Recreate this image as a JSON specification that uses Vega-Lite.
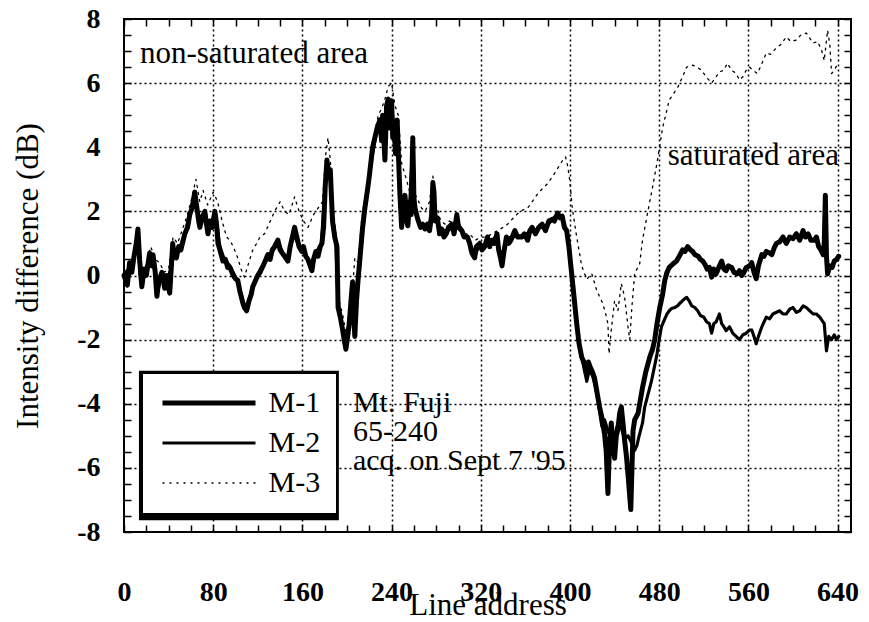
{
 "$schema": "https://vega.github.io/schema/vega-lite/v6.json",
 "width": 727, "height": 513,
 "autosize": {"type": "none"},
 "padding": {"left": 124, "top": 19, "right": 18, "bottom": 90},
 "background": "white",
 "config": {
  "view": {"stroke": "black", "strokeWidth": 2},
  "font": "Liberation Serif",
  "axis": {"domain": false, "tickColor": "black", "tickWidth": 1.5, "tickSize": -7, "labelColor": "black", "labelFont": "Liberation Serif", "labelFontSize": 28, "labelFontWeight": "bold", "titleFont": "Liberation Serif", "titleFontSize": 31, "titleFontWeight": "normal", "titleColor": "black", "gridColor": "black", "gridDash": [2, 3], "gridWidth": 1.5, "labelFlush": false, "labelOverlap": false},
  "legend": {"orient": "none", "legendX": 18, "legendY": 354, "fillColor": "white", "strokeColor": "black", "padding": 15, "symbolType": "stroke", "symbolSize": 8650, "symbolOffset": 2.5, "symbolStrokeColor": "black", "clipHeight": 30, "labelFont": "Liberation Serif", "labelFontSize": 30, "labelColor": "black", "labelOffset": 10, "rowPadding": 10}
 },
 "data": {"values": [
{"s":"M-1","x":0,"y":0},{"s":"M-1","x":3,"y":-0.3},{"s":"M-1","x":5,"y":0.4},{"s":"M-1","x":7,"y":0.1},{"s":"M-1","x":9,"y":0.6},{"s":"M-1","x":11,"y":1.0},{"s":"M-1","x":12.5,"y":1.45},{"s":"M-1","x":14,"y":0.5},{"s":"M-1","x":16,"y":-0.35},{"s":"M-1","x":18,"y":0.2},{"s":"M-1","x":20,"y":0.0},{"s":"M-1","x":23,"y":0.7},{"s":"M-1","x":25,"y":0.3},{"s":"M-1","x":26,"y":0.65},{"s":"M-1","x":28,"y":0.1},{"s":"M-1","x":29.5,"y":-0.65},{"s":"M-1","x":31,"y":-0.2},{"s":"M-1","x":34,"y":0.1},{"s":"M-1","x":36.5,"y":-0.4},{"s":"M-1","x":38,"y":0.0},{"s":"M-1","x":41,"y":-0.55},{"s":"M-1","x":42.5,"y":0.3},{"s":"M-1","x":43.7,"y":1.0},{"s":"M-1","x":45,"y":0.6},{"s":"M-1","x":47,"y":0.55},{"s":"M-1","x":49,"y":0.9},{"s":"M-1","x":51,"y":0.8},{"s":"M-1","x":54.5,"y":1.3},{"s":"M-1","x":57,"y":1.5},{"s":"M-1","x":59,"y":1.9},{"s":"M-1","x":61,"y":2.1},{"s":"M-1","x":63.5,"y":2.6},{"s":"M-1","x":65,"y":2.2},{"s":"M-1","x":67,"y":1.7},{"s":"M-1","x":68,"y":1.5},{"s":"M-1","x":70,"y":1.8},{"s":"M-1","x":72.5,"y":2.0},{"s":"M-1","x":74,"y":1.6},{"s":"M-1","x":75.3,"y":1.3},{"s":"M-1","x":77,"y":1.7},{"s":"M-1","x":79,"y":1.5},{"s":"M-1","x":81.5,"y":2.0},{"s":"M-1","x":83,"y":1.6},{"s":"M-1","x":84.3,"y":1.0},{"s":"M-1","x":86,"y":0.8},{"s":"M-1","x":88.7,"y":0.45},{"s":"M-1","x":91,"y":0.5},{"s":"M-1","x":93,"y":0.25},{"s":"M-1","x":95,"y":0.25},{"s":"M-1","x":98,"y":0.0},{"s":"M-1","x":100,"y":-0.1},{"s":"M-1","x":102,"y":-0.15},{"s":"M-1","x":104,"y":-0.5},{"s":"M-1","x":106.5,"y":-0.85},{"s":"M-1","x":108,"y":-1.0},{"s":"M-1","x":110,"y":-1.1},{"s":"M-1","x":112,"y":-0.8},{"s":"M-1","x":114,"y":-0.6},{"s":"M-1","x":115.5,"y":-0.35},{"s":"M-1","x":118,"y":-0.15},{"s":"M-1","x":120,"y":0.0},{"s":"M-1","x":122,"y":0.1},{"s":"M-1","x":124,"y":0.25},{"s":"M-1","x":126,"y":0.4},{"s":"M-1","x":129,"y":0.65},{"s":"M-1","x":131,"y":0.5},{"s":"M-1","x":133,"y":0.8},{"s":"M-1","x":135,"y":0.9},{"s":"M-1","x":138,"y":1.1},{"s":"M-1","x":140,"y":0.8},{"s":"M-1","x":142,"y":0.7},{"s":"M-1","x":144,"y":0.6},{"s":"M-1","x":147,"y":0.45},{"s":"M-1","x":149,"y":0.9},{"s":"M-1","x":151,"y":1.2},{"s":"M-1","x":153,"y":1.5},{"s":"M-1","x":155,"y":1.2},{"s":"M-1","x":157,"y":0.9},{"s":"M-1","x":159.5,"y":0.75},{"s":"M-1","x":161,"y":0.9},{"s":"M-1","x":163,"y":0.6},{"s":"M-1","x":165,"y":0.5},{"s":"M-1","x":168.5,"y":0.15},{"s":"M-1","x":170,"y":0.5},{"s":"M-1","x":172,"y":0.75},{"s":"M-1","x":174,"y":0.6},{"s":"M-1","x":176,"y":0.9},{"s":"M-1","x":177.5,"y":1.0},{"s":"M-1","x":179,"y":1.5},{"s":"M-1","x":180.5,"y":2.8},{"s":"M-1","x":182,"y":3.6},{"s":"M-1","x":183.5,"y":3.2},{"s":"M-1","x":185,"y":3.3},{"s":"M-1","x":186,"y":2.5},{"s":"M-1","x":187,"y":1.7},{"s":"M-1","x":189,"y":1.2},{"s":"M-1","x":191,"y":0.9},{"s":"M-1","x":192,"y":-1.0},{"s":"M-1","x":194,"y":-1.3},{"s":"M-1","x":195.6,"y":-1.6},{"s":"M-1","x":197,"y":-1.9},{"s":"M-1","x":199,"y":-2.3},{"s":"M-1","x":201,"y":-1.8},{"s":"M-1","x":202,"y":-1.5},{"s":"M-1","x":204,"y":-0.6},{"s":"M-1","x":205,"y":-0.2},{"s":"M-1","x":206,"y":-1.2},{"s":"M-1","x":207,"y":-1.9},{"s":"M-1","x":208.5,"y":-0.8},{"s":"M-1","x":210,"y":-0.1},{"s":"M-1","x":212,"y":0.7},{"s":"M-1","x":214,"y":1.5},{"s":"M-1","x":216,"y":2.1},{"s":"M-1","x":218.5,"y":2.7},{"s":"M-1","x":220,"y":3.1},{"s":"M-1","x":222,"y":3.7},{"s":"M-1","x":223,"y":4.0},{"s":"M-1","x":225,"y":4.3},{"s":"M-1","x":227,"y":4.6},{"s":"M-1","x":229.5,"y":4.85},{"s":"M-1","x":231,"y":4.2},{"s":"M-1","x":232,"y":5.0},{"s":"M-1","x":234,"y":3.6},{"s":"M-1","x":235.5,"y":5.3},{"s":"M-1","x":237,"y":5.5},{"s":"M-1","x":238.5,"y":4.6},{"s":"M-1","x":240,"y":5.45},{"s":"M-1","x":241,"y":4.3},{"s":"M-1","x":242,"y":4.8},{"s":"M-1","x":243.5,"y":3.8},{"s":"M-1","x":245,"y":4.85},{"s":"M-1","x":246.5,"y":3.4},{"s":"M-1","x":247.5,"y":2.5},{"s":"M-1","x":249,"y":1.5},{"s":"M-1","x":250.5,"y":2.2},{"s":"M-1","x":252,"y":2.5},{"s":"M-1","x":253.5,"y":1.7},{"s":"M-1","x":254.6,"y":1.55},{"s":"M-1","x":256,"y":2.3},{"s":"M-1","x":257.5,"y":1.9},{"s":"M-1","x":259,"y":4.3},{"s":"M-1","x":260,"y":2.4},{"s":"M-1","x":261,"y":2.1},{"s":"M-1","x":263.5,"y":1.75},{"s":"M-1","x":266,"y":1.5},{"s":"M-1","x":268,"y":1.6},{"s":"M-1","x":270,"y":1.45},{"s":"M-1","x":272,"y":1.6},{"s":"M-1","x":274,"y":1.4},{"s":"M-1","x":276,"y":1.9},{"s":"M-1","x":277,"y":2.9},{"s":"M-1","x":278,"y":2.6},{"s":"M-1","x":279,"y":1.7},{"s":"M-1","x":281,"y":1.8},{"s":"M-1","x":283,"y":1.3},{"s":"M-1","x":285,"y":1.45},{"s":"M-1","x":287,"y":1.2},{"s":"M-1","x":289,"y":1.3},{"s":"M-1","x":291,"y":1.5},{"s":"M-1","x":294,"y":1.6},{"s":"M-1","x":296,"y":1.3},{"s":"M-1","x":298.5,"y":1.9},{"s":"M-1","x":300,"y":1.5},{"s":"M-1","x":303,"y":1.4},{"s":"M-1","x":305,"y":1.2},{"s":"M-1","x":308,"y":1.2},{"s":"M-1","x":310,"y":1.0},{"s":"M-1","x":312,"y":0.7},{"s":"M-1","x":314.5,"y":0.55},{"s":"M-1","x":316,"y":0.9},{"s":"M-1","x":319,"y":1.0},{"s":"M-1","x":321,"y":0.8},{"s":"M-1","x":323.5,"y":0.9},{"s":"M-1","x":326,"y":1.2},{"s":"M-1","x":328,"y":0.9},{"s":"M-1","x":330,"y":1.1},{"s":"M-1","x":332,"y":1.0},{"s":"M-1","x":334.5,"y":1.3},{"s":"M-1","x":336,"y":0.8},{"s":"M-1","x":338,"y":0.5},{"s":"M-1","x":339,"y":0.3},{"s":"M-1","x":341,"y":0.8},{"s":"M-1","x":343,"y":1.2},{"s":"M-1","x":345,"y":1.0},{"s":"M-1","x":347,"y":1.1},{"s":"M-1","x":350.5,"y":1.4},{"s":"M-1","x":353,"y":1.2},{"s":"M-1","x":356.5,"y":1.2},{"s":"M-1","x":359,"y":1.3},{"s":"M-1","x":362,"y":1.1},{"s":"M-1","x":364,"y":1.4},{"s":"M-1","x":366,"y":1.5},{"s":"M-1","x":369,"y":1.3},{"s":"M-1","x":372,"y":1.5},{"s":"M-1","x":375,"y":1.6},{"s":"M-1","x":378,"y":1.4},{"s":"M-1","x":381,"y":1.7},{"s":"M-1","x":384,"y":1.75},{"s":"M-1","x":386,"y":1.7},{"s":"M-1","x":389,"y":1.95},{"s":"M-1","x":391,"y":1.8},{"s":"M-1","x":393,"y":1.85},{"s":"M-1","x":395,"y":1.5},{"s":"M-1","x":397,"y":1.4},{"s":"M-1","x":399,"y":0.9},{"s":"M-1","x":401.5,"y":0.05},{"s":"M-1","x":404,"y":-0.8},{"s":"M-1","x":406,"y":-1.5},{"s":"M-1","x":408,"y":-2.1},{"s":"M-1","x":410.5,"y":-2.55},{"s":"M-1","x":412.5,"y":-2.7},{"s":"M-1","x":415,"y":-3.05},{"s":"M-1","x":416.5,"y":-2.7},{"s":"M-1","x":418,"y":-2.85},{"s":"M-1","x":420,"y":-3.0},{"s":"M-1","x":422,"y":-3.2},{"s":"M-1","x":424,"y":-3.6},{"s":"M-1","x":426.5,"y":-4.1},{"s":"M-1","x":429,"y":-4.5},{"s":"M-1","x":431,"y":-4.95},{"s":"M-1","x":432.5,"y":-5.5},{"s":"M-1","x":434,"y":-6.8},{"s":"M-1","x":435.5,"y":-5.2},{"s":"M-1","x":437,"y":-4.6},{"s":"M-1","x":438.5,"y":-5.3},{"s":"M-1","x":440,"y":-5.7},{"s":"M-1","x":441.5,"y":-5.0},{"s":"M-1","x":443,"y":-4.8},{"s":"M-1","x":444.5,"y":-4.3},{"s":"M-1","x":446,"y":-4.1},{"s":"M-1","x":447.5,"y":-4.6},{"s":"M-1","x":449,"y":-5.15},{"s":"M-1","x":450.5,"y":-5.6},{"s":"M-1","x":452,"y":-6.2},{"s":"M-1","x":454.5,"y":-7.3},{"s":"M-1","x":456.5,"y":-4.85},{"s":"M-1","x":458,"y":-4.5},{"s":"M-1","x":461,"y":-4.3},{"s":"M-1","x":463,"y":-3.9},{"s":"M-1","x":465,"y":-3.5},{"s":"M-1","x":468,"y":-3.0},{"s":"M-1","x":471.5,"y":-2.55},{"s":"M-1","x":474,"y":-2.3},{"s":"M-1","x":476,"y":-2.0},{"s":"M-1","x":478,"y":-1.5},{"s":"M-1","x":480.5,"y":-1.0},{"s":"M-1","x":483,"y":-0.6},{"s":"M-1","x":485,"y":-0.15},{"s":"M-1","x":487,"y":0.1},{"s":"M-1","x":489,"y":0.25},{"s":"M-1","x":492,"y":0.35},{"s":"M-1","x":495.5,"y":0.45},{"s":"M-1","x":498,"y":0.6},{"s":"M-1","x":501,"y":0.8},{"s":"M-1","x":503,"y":0.75},{"s":"M-1","x":505.5,"y":0.9},{"s":"M-1","x":508,"y":0.8},{"s":"M-1","x":510,"y":0.75},{"s":"M-1","x":512,"y":0.65},{"s":"M-1","x":515,"y":0.6},{"s":"M-1","x":517,"y":0.5},{"s":"M-1","x":519,"y":0.45},{"s":"M-1","x":521,"y":0.35},{"s":"M-1","x":523,"y":0.2},{"s":"M-1","x":525,"y":0.25},{"s":"M-1","x":527,"y":-0.05},{"s":"M-1","x":529,"y":0.2},{"s":"M-1","x":531,"y":0.05},{"s":"M-1","x":534,"y":0.3},{"s":"M-1","x":536,"y":0.45},{"s":"M-1","x":538,"y":0.2},{"s":"M-1","x":540,"y":0.15},{"s":"M-1","x":542,"y":0.3},{"s":"M-1","x":545,"y":0.25},{"s":"M-1","x":547,"y":0.1},{"s":"M-1","x":550,"y":0.05},{"s":"M-1","x":552,"y":0.15},{"s":"M-1","x":554,"y":0.0},{"s":"M-1","x":556,"y":0.1},{"s":"M-1","x":558,"y":0.25},{"s":"M-1","x":561,"y":0.3},{"s":"M-1","x":563,"y":0.4},{"s":"M-1","x":565,"y":0.1},{"s":"M-1","x":567,"y":-0.1},{"s":"M-1","x":569,"y":0.3},{"s":"M-1","x":572,"y":0.65},{"s":"M-1","x":574,"y":0.6},{"s":"M-1","x":576,"y":0.75},{"s":"M-1","x":579,"y":0.7},{"s":"M-1","x":581,"y":0.65},{"s":"M-1","x":583,"y":0.85},{"s":"M-1","x":585,"y":1.0},{"s":"M-1","x":588,"y":1.05},{"s":"M-1","x":591,"y":1.2},{"s":"M-1","x":594,"y":1.0},{"s":"M-1","x":597,"y":1.2},{"s":"M-1","x":600,"y":1.15},{"s":"M-1","x":603,"y":1.3},{"s":"M-1","x":606,"y":1.1},{"s":"M-1","x":609,"y":1.4},{"s":"M-1","x":611,"y":1.2},{"s":"M-1","x":613.5,"y":1.3},{"s":"M-1","x":616,"y":1.1},{"s":"M-1","x":619,"y":1.1},{"s":"M-1","x":621,"y":1.2},{"s":"M-1","x":623,"y":0.9},{"s":"M-1","x":625,"y":0.8},{"s":"M-1","x":627,"y":0.65},{"s":"M-1","x":628,"y":1.0},{"s":"M-1","x":629,"y":2.5},{"s":"M-1","x":630,"y":0.6},{"s":"M-1","x":631,"y":0.05},{"s":"M-1","x":633,"y":0.3},{"s":"M-1","x":635,"y":0.25},{"s":"M-1","x":637,"y":0.45},{"s":"M-1","x":639,"y":0.5},{"s":"M-1","x":641,"y":0.6},
{"s":"M-2","x":0,"y":0.05},{"s":"M-2","x":4,"y":0.2},{"s":"M-2","x":8,"y":0.3},{"s":"M-2","x":12,"y":1.3},{"s":"M-2","x":15,"y":-0.2},{"s":"M-2","x":19,"y":0.1},{"s":"M-2","x":23,"y":0.6},{"s":"M-2","x":27,"y":0.3},{"s":"M-2","x":30,"y":-0.5},{"s":"M-2","x":34,"y":0.0},{"s":"M-2","x":38,"y":-0.2},{"s":"M-2","x":42,"y":0.2},{"s":"M-2","x":45,"y":0.7},{"s":"M-2","x":50,"y":0.85},{"s":"M-2","x":55,"y":1.35},{"s":"M-2","x":60,"y":2.0},{"s":"M-2","x":63,"y":2.5},{"s":"M-2","x":67,"y":1.8},{"s":"M-2","x":70,"y":1.7},{"s":"M-2","x":73,"y":1.9},{"s":"M-2","x":76,"y":1.4},{"s":"M-2","x":80,"y":1.8},{"s":"M-2","x":83,"y":1.7},{"s":"M-2","x":86,"y":0.9},{"s":"M-2","x":90,"y":0.5},{"s":"M-2","x":95,"y":0.3},{"s":"M-2","x":100,"y":-0.05},{"s":"M-2","x":104,"y":-0.45},{"s":"M-2","x":108,"y":-0.95},{"s":"M-2","x":111,"y":-0.95},{"s":"M-2","x":115,"y":-0.4},{"s":"M-2","x":120,"y":0.05},{"s":"M-2","x":125,"y":0.35},{"s":"M-2","x":130,"y":0.6},{"s":"M-2","x":135,"y":0.85},{"s":"M-2","x":139,"y":1.0},{"s":"M-2","x":143,"y":0.65},{"s":"M-2","x":147,"y":0.5},{"s":"M-2","x":152,"y":1.3},{"s":"M-2","x":156,"y":1.0},{"s":"M-2","x":160,"y":0.8},{"s":"M-2","x":164,"y":0.55},{"s":"M-2","x":168,"y":0.2},{"s":"M-2","x":172,"y":0.7},{"s":"M-2","x":177,"y":1.0},{"s":"M-2","x":180,"y":2.6},{"s":"M-2","x":182,"y":3.5},{"s":"M-2","x":185,"y":3.1},{"s":"M-2","x":187,"y":1.8},{"s":"M-2","x":190,"y":1.0},{"s":"M-2","x":192,"y":-0.8},{"s":"M-2","x":196,"y":-1.7},{"s":"M-2","x":199,"y":-2.2},{"s":"M-2","x":202,"y":-1.4},{"s":"M-2","x":205,"y":-0.3},{"s":"M-2","x":207,"y":-1.7},{"s":"M-2","x":210,"y":-0.2},{"s":"M-2","x":214,"y":1.4},{"s":"M-2","x":218,"y":2.6},{"s":"M-2","x":222,"y":3.6},{"s":"M-2","x":226,"y":4.4},{"s":"M-2","x":230,"y":4.8},{"s":"M-2","x":233,"y":4.6},{"s":"M-2","x":236,"y":5.4},{"s":"M-2","x":240,"y":5.3},{"s":"M-2","x":242,"y":4.6},{"s":"M-2","x":245,"y":4.7},{"s":"M-2","x":247.5,"y":2.6},{"s":"M-2","x":250,"y":1.7},{"s":"M-2","x":253,"y":2.0},{"s":"M-2","x":256,"y":2.1},{"s":"M-2","x":259,"y":4.1},{"s":"M-2","x":261,"y":2.0},{"s":"M-2","x":265,"y":1.6},{"s":"M-2","x":270,"y":1.5},{"s":"M-2","x":275,"y":1.7},{"s":"M-2","x":277,"y":2.8},{"s":"M-2","x":280,"y":1.7},{"s":"M-2","x":285,"y":1.4},{"s":"M-2","x":290,"y":1.4},{"s":"M-2","x":295,"y":1.5},{"s":"M-2","x":300,"y":1.6},{"s":"M-2","x":305,"y":1.3},{"s":"M-2","x":310,"y":1.05},{"s":"M-2","x":314,"y":0.6},{"s":"M-2","x":319,"y":0.95},{"s":"M-2","x":324,"y":0.95},{"s":"M-2","x":330,"y":1.05},{"s":"M-2","x":334,"y":1.25},{"s":"M-2","x":339,"y":0.35},{"s":"M-2","x":343,"y":1.15},{"s":"M-2","x":348,"y":1.2},{"s":"M-2","x":353,"y":1.25},{"s":"M-2","x":358,"y":1.2},{"s":"M-2","x":363,"y":1.35},{"s":"M-2","x":368,"y":1.4},{"s":"M-2","x":373,"y":1.5},{"s":"M-2","x":378,"y":1.5},{"s":"M-2","x":383,"y":1.7},{"s":"M-2","x":388,"y":1.9},{"s":"M-2","x":393,"y":1.8},{"s":"M-2","x":397,"y":1.35},{"s":"M-2","x":400,"y":0.6},{"s":"M-2","x":404,"y":-0.9},{"s":"M-2","x":408,"y":-2.2},{"s":"M-2","x":412,"y":-2.8},{"s":"M-2","x":415,"y":-3.3},{"s":"M-2","x":417,"y":-3.0},{"s":"M-2","x":420,"y":-3.1},{"s":"M-2","x":423,"y":-3.5},{"s":"M-2","x":425,"y":-3.9},{"s":"M-2","x":428.5,"y":-4.7},{"s":"M-2","x":431,"y":-4.5},{"s":"M-2","x":434,"y":-4.85},{"s":"M-2","x":437,"y":-5.1},{"s":"M-2","x":440,"y":-5.0},{"s":"M-2","x":443,"y":-4.6},{"s":"M-2","x":446,"y":-4.75},{"s":"M-2","x":449,"y":-5.1},{"s":"M-2","x":452,"y":-5.0},{"s":"M-2","x":455,"y":-5.2},{"s":"M-2","x":458,"y":-5.45},{"s":"M-2","x":460,"y":-5.3},{"s":"M-2","x":462,"y":-5.0},{"s":"M-2","x":465,"y":-4.6},{"s":"M-2","x":467,"y":-4.1},{"s":"M-2","x":470,"y":-3.7},{"s":"M-2","x":473,"y":-3.3},{"s":"M-2","x":476,"y":-2.8},{"s":"M-2","x":478,"y":-2.45},{"s":"M-2","x":480,"y":-2.0},{"s":"M-2","x":482,"y":-1.6},{"s":"M-2","x":485,"y":-1.35},{"s":"M-2","x":487,"y":-1.2},{"s":"M-2","x":489,"y":-1.1},{"s":"M-2","x":491,"y":-1.03},{"s":"M-2","x":494,"y":-1.0},{"s":"M-2","x":496.6,"y":-0.94},{"s":"M-2","x":499,"y":-0.85},{"s":"M-2","x":502,"y":-0.75},{"s":"M-2","x":504.6,"y":-0.68},{"s":"M-2","x":507,"y":-0.8},{"s":"M-2","x":509,"y":-0.94},{"s":"M-2","x":512,"y":-1.0},{"s":"M-2","x":514.5,"y":-1.1},{"s":"M-2","x":517,"y":-1.25},{"s":"M-2","x":520,"y":-1.3},{"s":"M-2","x":522.6,"y":-1.45},{"s":"M-2","x":525,"y":-1.5},{"s":"M-2","x":527,"y":-1.8},{"s":"M-2","x":529,"y":-1.5},{"s":"M-2","x":531,"y":-1.45},{"s":"M-2","x":534,"y":-1.2},{"s":"M-2","x":536,"y":-1.5},{"s":"M-2","x":538,"y":-1.6},{"s":"M-2","x":540,"y":-1.72},{"s":"M-2","x":543,"y":-1.6},{"s":"M-2","x":546,"y":-1.8},{"s":"M-2","x":549,"y":-1.9},{"s":"M-2","x":552,"y":-2.0},{"s":"M-2","x":555,"y":-1.85},{"s":"M-2","x":558,"y":-1.8},{"s":"M-2","x":561,"y":-1.7},{"s":"M-2","x":563,"y":-1.7},{"s":"M-2","x":565,"y":-1.9},{"s":"M-2","x":567,"y":-2.13},{"s":"M-2","x":569,"y":-1.9},{"s":"M-2","x":572,"y":-1.6},{"s":"M-2","x":574,"y":-1.45},{"s":"M-2","x":576,"y":-1.3},{"s":"M-2","x":579,"y":-1.35},{"s":"M-2","x":582,"y":-1.2},{"s":"M-2","x":585,"y":-1.15},{"s":"M-2","x":588,"y":-1.1},{"s":"M-2","x":591,"y":-1.2},{"s":"M-2","x":594,"y":-1.2},{"s":"M-2","x":597,"y":-1.05},{"s":"M-2","x":600,"y":-1.0},{"s":"M-2","x":603,"y":-1.15},{"s":"M-2","x":606,"y":-1.1},{"s":"M-2","x":609,"y":-0.95},{"s":"M-2","x":612,"y":-1.0},{"s":"M-2","x":615,"y":-1.1},{"s":"M-2","x":618,"y":-1.2},{"s":"M-2","x":621,"y":-1.2},{"s":"M-2","x":624,"y":-1.3},{"s":"M-2","x":626,"y":-1.4},{"s":"M-2","x":628,"y":-1.5},{"s":"M-2","x":630,"y":-2.35},{"s":"M-2","x":632,"y":-1.9},{"s":"M-2","x":634.6,"y":-2.0},{"s":"M-2","x":637,"y":-1.85},{"s":"M-2","x":639,"y":-2.0},{"s":"M-2","x":641,"y":-1.9},
{"s":"M-3","x":0,"y":0.0},{"s":"M-3","x":4,"y":0.2},{"s":"M-3","x":8,"y":0.6},{"s":"M-3","x":12,"y":1.3},{"s":"M-3","x":16,"y":0.1},{"s":"M-3","x":20,"y":0.3},{"s":"M-3","x":24,"y":0.9},{"s":"M-3","x":28,"y":0.5},{"s":"M-3","x":32,"y":0.4},{"s":"M-3","x":36,"y":0.1},{"s":"M-3","x":40,"y":0.2},{"s":"M-3","x":44,"y":1.2},{"s":"M-3","x":48,"y":1.0},{"s":"M-3","x":52,"y":1.4},{"s":"M-3","x":56,"y":1.8},{"s":"M-3","x":60,"y":2.3},{"s":"M-3","x":64.5,"y":3.0},{"s":"M-3","x":68,"y":2.3},{"s":"M-3","x":71,"y":2.65},{"s":"M-3","x":75,"y":2.2},{"s":"M-3","x":80,"y":2.6},{"s":"M-3","x":84,"y":2.3},{"s":"M-3","x":88,"y":1.7},{"s":"M-3","x":92,"y":1.2},{"s":"M-3","x":95,"y":1.1},{"s":"M-3","x":98,"y":0.9},{"s":"M-3","x":102,"y":0.55},{"s":"M-3","x":105,"y":0.2},{"s":"M-3","x":108,"y":-0.05},{"s":"M-3","x":111,"y":0.3},{"s":"M-3","x":115.5,"y":0.8},{"s":"M-3","x":119,"y":1.0},{"s":"M-3","x":122,"y":1.2},{"s":"M-3","x":126,"y":1.3},{"s":"M-3","x":130,"y":1.6},{"s":"M-3","x":135,"y":2.0},{"s":"M-3","x":140,"y":2.3},{"s":"M-3","x":144,"y":2.0},{"s":"M-3","x":148,"y":1.9},{"s":"M-3","x":153,"y":2.45},{"s":"M-3","x":157,"y":2.0},{"s":"M-3","x":161,"y":1.7},{"s":"M-3","x":165,"y":1.5},{"s":"M-3","x":170,"y":1.9},{"s":"M-3","x":174,"y":2.1},{"s":"M-3","x":178,"y":2.3},{"s":"M-3","x":181,"y":3.8},{"s":"M-3","x":183,"y":4.3},{"s":"M-3","x":185,"y":3.6},{"s":"M-3","x":187,"y":2.4},{"s":"M-3","x":190,"y":1.3},{"s":"M-3","x":193,"y":-0.8},{"s":"M-3","x":196,"y":-1.2},{"s":"M-3","x":199,"y":-1.8},{"s":"M-3","x":202,"y":-1.3},{"s":"M-3","x":205,"y":-0.4},{"s":"M-3","x":207,"y":0.55},{"s":"M-3","x":210,"y":0.4},{"s":"M-3","x":213,"y":1.7},{"s":"M-3","x":216,"y":2.4},{"s":"M-3","x":219,"y":3.0},{"s":"M-3","x":222,"y":3.9},{"s":"M-3","x":225,"y":4.5},{"s":"M-3","x":228,"y":5.0},{"s":"M-3","x":231,"y":5.2},{"s":"M-3","x":234,"y":5.5},{"s":"M-3","x":237,"y":5.9},{"s":"M-3","x":240,"y":6.0},{"s":"M-3","x":243,"y":5.3},{"s":"M-3","x":246,"y":5.0},{"s":"M-3","x":249,"y":3.5},{"s":"M-3","x":253.5,"y":2.97},{"s":"M-3","x":257,"y":2.5},{"s":"M-3","x":260,"y":2.6},{"s":"M-3","x":263,"y":2.4},{"s":"M-3","x":267,"y":2.1},{"s":"M-3","x":270,"y":2.0},{"s":"M-3","x":274,"y":2.3},{"s":"M-3","x":277,"y":3.1},{"s":"M-3","x":280,"y":2.2},{"s":"M-3","x":284,"y":1.7},{"s":"M-3","x":288,"y":1.6},{"s":"M-3","x":292,"y":1.7},{"s":"M-3","x":296,"y":1.6},{"s":"M-3","x":300,"y":1.5},{"s":"M-3","x":305,"y":1.3},{"s":"M-3","x":310,"y":1.3},{"s":"M-3","x":315,"y":1.1},{"s":"M-3","x":320,"y":1.2},{"s":"M-3","x":325,"y":1.2},{"s":"M-3","x":330,"y":1.3},{"s":"M-3","x":335,"y":1.4},{"s":"M-3","x":340,"y":1.5},{"s":"M-3","x":344,"y":1.6},{"s":"M-3","x":348,"y":1.75},{"s":"M-3","x":353,"y":1.93},{"s":"M-3","x":358,"y":2.05},{"s":"M-3","x":362,"y":2.1},{"s":"M-3","x":366,"y":2.3},{"s":"M-3","x":371,"y":2.55},{"s":"M-3","x":375,"y":2.7},{"s":"M-3","x":380,"y":2.87},{"s":"M-3","x":386,"y":3.18},{"s":"M-3","x":390,"y":3.4},{"s":"M-3","x":393.5,"y":3.6},{"s":"M-3","x":396,"y":3.7},{"s":"M-3","x":398,"y":3.4},{"s":"M-3","x":400,"y":2.9},{"s":"M-3","x":402,"y":2.1},{"s":"M-3","x":406,"y":1.2},{"s":"M-3","x":410.5,"y":0.3},{"s":"M-3","x":415,"y":-0.12},{"s":"M-3","x":419.5,"y":0.06},{"s":"M-3","x":424,"y":-0.47},{"s":"M-3","x":429.5,"y":-0.88},{"s":"M-3","x":432,"y":-1.2},{"s":"M-3","x":434,"y":-1.5},{"s":"M-3","x":435,"y":-2.44},{"s":"M-3","x":437,"y":-1.7},{"s":"M-3","x":440,"y":-0.78},{"s":"M-3","x":443,"y":-1.1},{"s":"M-3","x":446,"y":-0.25},{"s":"M-3","x":449,"y":-0.68},{"s":"M-3","x":452,"y":-1.6},{"s":"M-3","x":453.6,"y":-2.0},{"s":"M-3","x":455.5,"y":-0.98},{"s":"M-3","x":458,"y":0.06},{"s":"M-3","x":462.5,"y":0.37},{"s":"M-3","x":465,"y":1.1},{"s":"M-3","x":470,"y":2.03},{"s":"M-3","x":474,"y":2.75},{"s":"M-3","x":478,"y":3.5},{"s":"M-3","x":483,"y":4.6},{"s":"M-3","x":489,"y":5.47},{"s":"M-3","x":496.6,"y":5.87},{"s":"M-3","x":501,"y":6.2},{"s":"M-3","x":504.6,"y":6.5},{"s":"M-3","x":510,"y":6.56},{"s":"M-3","x":514,"y":6.5},{"s":"M-3","x":518,"y":6.4},{"s":"M-3","x":522,"y":6.2},{"s":"M-3","x":527,"y":6.0},{"s":"M-3","x":531,"y":6.2},{"s":"M-3","x":534,"y":6.35},{"s":"M-3","x":538,"y":6.4},{"s":"M-3","x":541,"y":6.62},{"s":"M-3","x":545,"y":6.4},{"s":"M-3","x":549,"y":6.3},{"s":"M-3","x":552,"y":6.1},{"s":"M-3","x":555,"y":6.2},{"s":"M-3","x":558,"y":6.4},{"s":"M-3","x":561,"y":6.5},{"s":"M-3","x":564,"y":6.4},{"s":"M-3","x":568,"y":6.3},{"s":"M-3","x":572,"y":6.6},{"s":"M-3","x":576,"y":6.94},{"s":"M-3","x":580,"y":6.9},{"s":"M-3","x":585,"y":7.1},{"s":"M-3","x":589,"y":7.2},{"s":"M-3","x":594,"y":7.44},{"s":"M-3","x":598,"y":7.3},{"s":"M-3","x":603,"y":7.34},{"s":"M-3","x":607,"y":7.5},{"s":"M-3","x":612,"y":7.56},{"s":"M-3","x":615,"y":7.4},{"s":"M-3","x":618,"y":7.25},{"s":"M-3","x":622,"y":7.3},{"s":"M-3","x":625.6,"y":7.03},{"s":"M-3","x":628,"y":6.7},{"s":"M-3","x":631,"y":7.65},{"s":"M-3","x":633,"y":7.2},{"s":"M-3","x":634.6,"y":6.3},{"s":"M-3","x":637,"y":6.4},{"s":"M-3","x":640,"y":6.6}
 ]},
 "layer": [
  {
   "data": {"values": [{}]},
   "mark": {"type": "rect", "color": "black"},
   "encoding": {
    "x": {"datum": 13.4, "type": "quantitative", "axis": null},
    "x2": {"datum": 192.7},
    "y": {"datum": -2.97, "type": "quantitative", "axis": null},
    "y2": {"datum": -7.63}
   }
  },
  {
   "mark": {"type": "line", "strokeJoin": "round", "strokeCap": "round"},
   "encoding": {
    "x": {"field": "x", "type": "quantitative", "scale": {"domain": [0, 652], "nice": false, "zero": false},
     "axis": {"orient": "bottom", "values": [0,20,40,60,80,100,120,140,160,180,200,220,240,260,280,300,320,340,360,380,400,420,440,460,480,500,520,540,560,580,600,620,640], "labelExpr": "datum.value % 80 === 0 ? '' + datum.value : ''", "labelPadding": 53, "grid": true, "gridOpacity": {"condition": {"test": "datum.value % 80 === 0 && datum.value > 0", "value": 1}, "value": 0}, "title": "Line address", "titlePadding": -16}},
    "y": {"field": "y", "type": "quantitative", "scale": {"domain": [-8, 8], "nice": false, "zero": false},
     "axis": {"orient": "left", "values": [-8,-7.5,-7,-6.5,-6,-5.5,-5,-4.5,-4,-3.5,-3,-2.5,-2,-1.5,-1,-0.5,0,0.5,1,1.5,2,2.5,3,3.5,4,4.5,5,5.5,6,6.5,7,7.5,8], "labelExpr": "datum.value % 2 === 0 ? '' + datum.value : ''", "labelPadding": 31, "grid": true, "gridOpacity": {"condition": {"test": "datum.value % 2 === 0 && abs(datum.value) < 8", "value": 1}, "value": 0}, "title": "Intensity difference (dB)", "titlePadding": 32}},
    "color": {"field": "s", "type": "nominal", "scale": {"domain": ["M-1", "M-2", "M-3"], "range": ["black", "black", "black"]}, "legend": {"title": null}},
    "strokeWidth": {"field": "s", "type": "nominal", "scale": {"domain": ["M-1", "M-2", "M-3"], "range": [5, 1.3, 1.6]}, "legend": {"title": null}},
    "strokeDash": {"field": "s", "type": "nominal", "scale": {"domain": ["M-1", "M-2", "M-3"], "range": [[1, 0], [1, 0], [2, 5]]}, "legend": {"title": null}}
   }
  },
  {
   "mark": {"type": "point", "opacity": 0},
   "encoding": {
    "x": {"field": "x", "type": "quantitative", "axis": {"orient": "top", "values": [0,20,40,60,80,100,120,140,160,180,200,220,240,260,280,300,320,340,360,380,400,420,440,460,480,500,520,540,560,580,600,620,640], "labels": false, "grid": false, "title": null}},
    "y": {"field": "y", "type": "quantitative", "axis": {"orient": "right", "values": [-8,-7.5,-7,-6.5,-6,-5.5,-5,-4.5,-4,-3.5,-3,-2.5,-2,-1.5,-1,-0.5,0,0.5,1,1.5,2,2.5,3,3.5,4,4.5,5,5.5,6,6.5,7,7.5,8], "labels": false, "grid": false, "title": null}}
   }
  },
  {
   "data": {"values": [{}]},
   "mark": {"type": "text", "text": "non-saturated area", "align": "left", "baseline": "alphabetic", "font": "Liberation Serif", "fontSize": 31, "color": "black"},
   "encoding": {"x": {"datum": 14.3, "type": "quantitative", "axis": null}, "y": {"datum": 6.63, "type": "quantitative", "axis": null}}
  },
  {
   "data": {"values": [{}]},
   "mark": {"type": "text", "text": "saturated area", "align": "left", "baseline": "alphabetic", "font": "Liberation Serif", "fontSize": 31, "color": "black"},
   "encoding": {"x": {"datum": 487.6, "type": "quantitative", "axis": null}, "y": {"datum": 3.44, "type": "quantitative", "axis": null}}
  },
  {
   "data": {"values": [{}]},
   "mark": {"type": "text", "text": "Mt. Fuji", "align": "left", "baseline": "alphabetic", "font": "Liberation Serif", "fontSize": 30, "color": "black"},
   "encoding": {"x": {"datum": 205.3, "type": "quantitative", "axis": null}, "y": {"datum": -4.25, "type": "quantitative", "axis": null}}
  },
  {
   "data": {"values": [{}]},
   "mark": {"type": "text", "text": "65-240", "align": "left", "baseline": "alphabetic", "font": "Liberation Serif", "fontSize": 30, "color": "black"},
   "encoding": {"x": {"datum": 205.3, "type": "quantitative", "axis": null}, "y": {"datum": -5.16, "type": "quantitative", "axis": null}}
  },
  {
   "data": {"values": [{}]},
   "mark": {"type": "text", "text": "acq. on Sept 7 '95", "align": "left", "baseline": "alphabetic", "font": "Liberation Serif", "fontSize": 30, "color": "black"},
   "encoding": {"x": {"datum": 205.3, "type": "quantitative", "axis": null}, "y": {"datum": -6.08, "type": "quantitative", "axis": null}}
  }
 ],
 "resolve": {"axis": {"x": "independent", "y": "independent"}}
}
